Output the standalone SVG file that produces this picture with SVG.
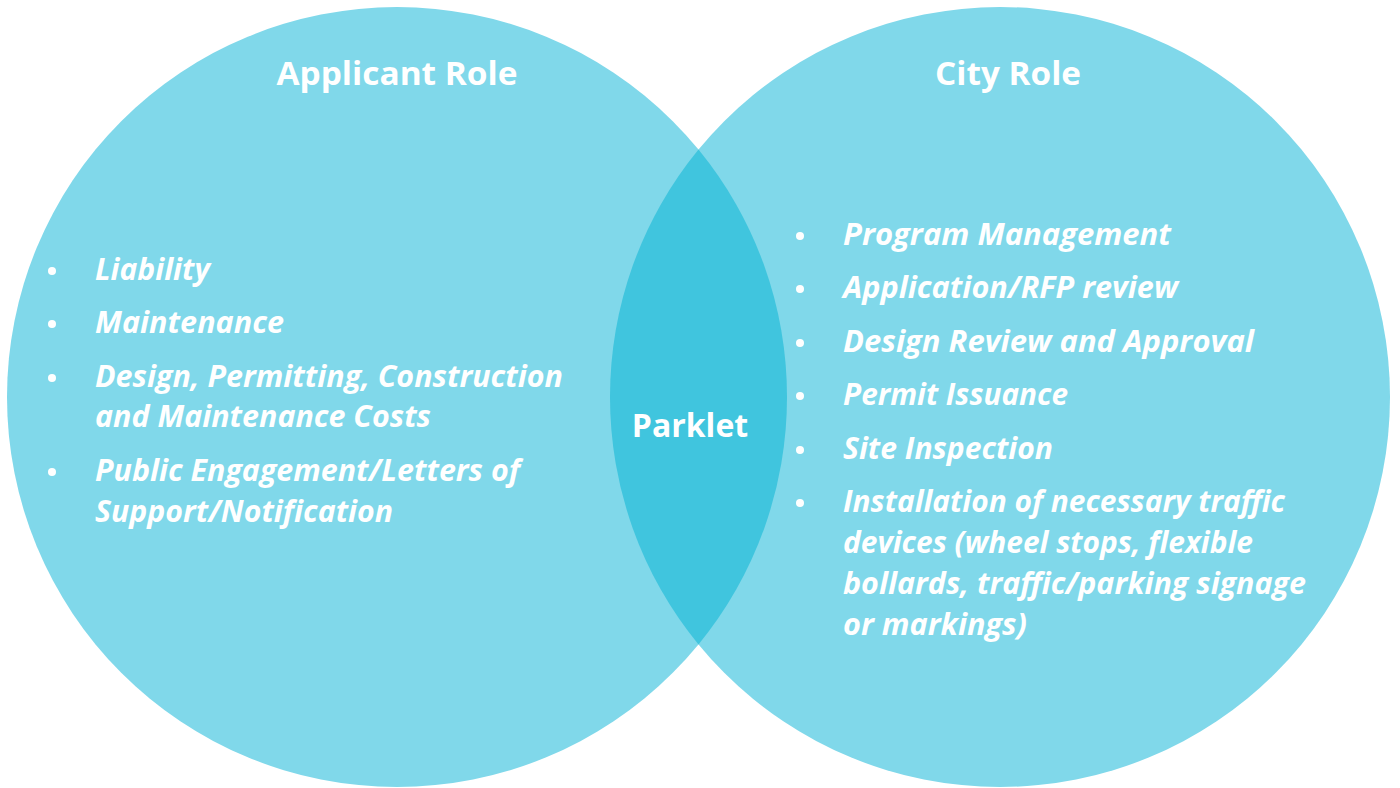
<svg xmlns="http://www.w3.org/2000/svg" width="1400" height="788" viewBox="0 0 1400 788">
<style>
.circle{fill:#80d8ea}
.lens{fill:#40c5de}
.head{font-family:"Open Sans","Liberation Sans",sans-serif;font-weight:700;font-size:32px;fill:#ffffff;text-anchor:middle}
.item{font-family:"Open Sans","Liberation Sans",sans-serif;font-weight:700;font-style:italic;font-size:31px;fill:#ffffff}
.dot{fill:#ffffff}
</style>
<rect width="1400" height="788" fill="#ffffff"/>
<g id="applicant">
<circle class="circle" cx="397" cy="397" r="390"/>
</g>
<g id="city">
<circle class="circle" cx="1000" cy="397" r="390"/>
</g>
<g id="parklet">
<path class="lens" d="M698.5 149.6 A390 390 0 0 1 698.5 644.4 A390 390 0 0 1 698.5 149.6 Z"/>
<text class="head" x="690" y="437">Parklet</text>
</g>
<g id="applicant-text">
<text class="head" x="397" y="85" textLength="241" lengthAdjust="spacingAndGlyphs">Applicant Role</text>
<circle class="dot" cx="52" cy="271" r="4"/>
<circle class="dot" cx="52" cy="324" r="4"/>
<circle class="dot" cx="52" cy="378" r="4"/>
<circle class="dot" cx="52" cy="472" r="4"/>
<text class="item" x="95" y="280" textLength="115" lengthAdjust="spacingAndGlyphs">Liability</text>
<text class="item" x="95" y="333" textLength="189" lengthAdjust="spacingAndGlyphs">Maintenance</text>
<text class="item" x="95" y="387" textLength="468" lengthAdjust="spacingAndGlyphs">Design, Permitting, Construction</text>
<text class="item" x="95" y="427" textLength="336" lengthAdjust="spacingAndGlyphs">and Maintenance Costs</text>
<text class="item" x="95" y="481" textLength="425" lengthAdjust="spacingAndGlyphs">Public Engagement/Letters of</text>
<text class="item" x="95" y="522" textLength="298" lengthAdjust="spacingAndGlyphs">Support/Notification</text>
</g>
<g id="city-text">
<text class="head" x="1008" y="85" textLength="146" lengthAdjust="spacingAndGlyphs">City Role</text>
<circle class="dot" cx="800" cy="236" r="4"/>
<circle class="dot" cx="800" cy="289" r="4"/>
<circle class="dot" cx="800" cy="343" r="4"/>
<circle class="dot" cx="800" cy="396" r="4"/>
<circle class="dot" cx="800" cy="450" r="4"/>
<circle class="dot" cx="800" cy="503" r="4"/>
<text class="item" x="843" y="245" textLength="328" lengthAdjust="spacingAndGlyphs">Program Management</text>
<text class="item" x="843" y="298" textLength="335" lengthAdjust="spacingAndGlyphs">Application/RFP review</text>
<text class="item" x="843" y="352" textLength="411" lengthAdjust="spacingAndGlyphs">Design Review and Approval</text>
<text class="item" x="843" y="405" textLength="225" lengthAdjust="spacingAndGlyphs">Permit Issuance</text>
<text class="item" x="843" y="459" textLength="210" lengthAdjust="spacingAndGlyphs">Site Inspection</text>
<text class="item" x="843" y="512" textLength="442" lengthAdjust="spacingAndGlyphs">Installation of necessary traffic</text>
<text class="item" x="843" y="553" textLength="410" lengthAdjust="spacingAndGlyphs">devices (wheel stops, flexible</text>
<text class="item" x="843" y="594" textLength="463" lengthAdjust="spacingAndGlyphs">bollards, traffic/parking signage</text>
<text class="item" x="843" y="635" textLength="184" lengthAdjust="spacingAndGlyphs">or markings)</text>
</g>
</svg>
